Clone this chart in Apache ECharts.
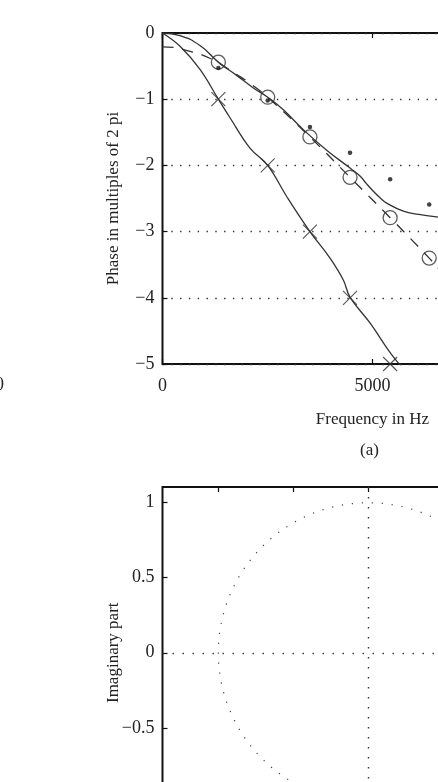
<!DOCTYPE html>
<html>
<head>
<meta charset="utf-8">
<script src="https://cdn.jsdelivr.net/npm/echarts@6/dist/echarts.min.js"></script>
<style>
  html, body { margin: 0; padding: 0; background: #fff; overflow: hidden; width: 438px; height: 782px; }
  /* the figure continues past the right and bottom edges of the window, as in the cropped original */
  #chart { width: 640px; height: 900px; }
</style>
</head>
<body>
<div id="chart"></div>
<script>
// (a) phase curves, frequency in Hz vs phase in multiples of 2 pi
var markFreq = [1330, 2505, 3510, 4465, 5420, 6350];
var crossPhase = [-1, -2, -3, -4, -5];
var circlePhase = [-0.44, -0.97, -1.57, -2.18, -2.79, -3.40];
var dotPhase = [-0.53, -1.02, -1.42, -1.81, -2.21, -2.59];

var steepFreq = [0, 417, 893, 1330, 1607, 2083, 2505, 2957, 3510, 3988, 4305, 4465, 4940, 5390, 5700];
var steepPhase = [0, -0.2, -0.55, -1.0, -1.28, -1.74, -2.0, -2.47, -3.0, -3.4, -3.73, -3.99, -4.38, -4.8, -5.05];

var flatFreq = [0, 417, 893, 1330, 1766, 2163, 2505, 2877, 3353, 3909, 4465, 4702, 4861, 5020, 5180, 5337, 5734, 6100, 6560, 6800];
var flatPhase = [0, -0.04, -0.19, -0.44, -0.64, -0.83, -0.97, -1.16, -1.46, -1.77, -2.04, -2.16, -2.28, -2.39, -2.49, -2.57, -2.69, -2.74, -2.78, -2.79];

var dashFreq = [0, 300, 607, 940, 1330, 1774, 2040, 2505, 3510, 4465, 5420, 6350, 6560, 6900];
var dashPhase = [-0.21, -0.22, -0.27, -0.33, -0.45, -0.63, -0.74, -0.97, -1.57, -2.18, -2.79, -3.40, -3.55, -3.75];

// lower panel: unit circle in the complex plane
var unitCircle = [[0, 0, 1]]; // centre re, centre im, radius
var planeTicks = [-1, -0.5, 0, 0.5, 1];

function zip(a, b) {
    var out = [];
    for (var i = 0; i < a.length && i < b.length; i++) out.push([a[i], b[i]]);
    return out;
}
function minus(v) {
    return String(v).replace('-', '\u2212');
}

var chart = echarts.init(document.getElementById('chart'));
var font = 'Liberation Serif';
var ink = '#333';
var crossPath = 'path://M0,0L10,10M10,0L0,10';
var tickStyle = { color: '#111', width: 1.2 };

var option = {
    animation: false,
    textStyle: { fontFamily: font },
    grid: [
        { left: 162.5, top: 33, width: 420, height: 331, show: true, borderColor: '#111', borderWidth: 2, containLabel: false },
        { left: 162.5, top: 487, width: 411.6, height: 331.5, show: true, borderColor: '#111', borderWidth: 2, containLabel: false }
    ],
    xAxis: [
        {
            gridIndex: 0, type: 'value', min: 0, max: 10000, interval: 5000,
            name: 'Frequency in Hz', nameLocation: 'middle', nameGap: 47, nameMoveOverlap: false,
            nameTextStyle: { fontFamily: font, fontSize: 17, color: '#222' },
            axisLine: { show: false, onZero: false },
            axisTick: { inside: true, length: 5, lineStyle: tickStyle },
            axisLabel: { margin: 13, fontFamily: font, fontSize: 18, color: '#222', formatter: minus },
            splitLine: { show: false }
        },
        {
            gridIndex: 0, type: 'value', position: 'top', min: 0, max: 10000, interval: 5000,
            axisLine: { show: false, onZero: false },
            axisTick: { inside: true, length: 5, lineStyle: tickStyle },
            axisLabel: { show: false },
            splitLine: { show: false }
        },
        {
            gridIndex: 1, type: 'value', min: -1.372, max: 1.372,
            axisLine: { show: false, onZero: false },
            axisTick: { inside: true, length: 5, customValues: planeTicks, lineStyle: tickStyle },
            axisLabel: { customValues: planeTicks, fontFamily: font, fontSize: 18, color: '#222', formatter: minus },
            splitLine: { show: false }
        },
        {
            gridIndex: 1, type: 'value', position: 'top', min: -1.372, max: 1.372,
            axisLine: { show: false, onZero: false },
            axisTick: { inside: true, length: 5, customValues: planeTicks, lineStyle: tickStyle },
            axisLabel: { show: false },
            splitLine: { show: false }
        }
    ],
    yAxis: [
        {
            gridIndex: 0, type: 'value', min: -5, max: 0, interval: 1,
            name: 'Phase in multiples of 2 pi', nameLocation: 'middle', nameGap: 40, nameMoveOverlap: false,
            nameTextStyle: { fontFamily: font, fontSize: 17, color: '#222' },
            axisLine: { show: false, onZero: false },
            axisTick: { inside: true, length: 5, lineStyle: tickStyle },
            axisLabel: { margin: 8, fontFamily: font, fontSize: 18, color: '#222', formatter: minus },
            splitLine: { show: true, lineStyle: { color: ink, width: 1.4, type: [1.4, 7.4] } }
        },
        {
            gridIndex: 1, type: 'value', min: -1.1, max: 1.1,
            name: 'Imaginary part', nameLocation: 'middle', nameGap: 40, nameMoveOverlap: false,
            nameTextStyle: { fontFamily: font, fontSize: 17, color: '#222' },
            axisLine: { show: false, onZero: false },
            axisTick: { inside: true, length: 5, customValues: planeTicks, lineStyle: tickStyle },
            axisLabel: { customValues: planeTicks, margin: 8, fontFamily: font, fontSize: 18, color: '#222', formatter: minus },
            splitLine: { show: false }
        }
    ],
    graphic: [
        { type: 'text', left: -5, top: 376, style: { text: '0', font: '18px "Liberation Serif"', fill: '#222' } },
        { type: 'text', left: 360, top: 442, style: { text: '(a)', font: '17px "Liberation Serif"', fill: '#222' } }
    ],
    series: [
        {
            name: 'steep', type: 'line', xAxisIndex: 0, yAxisIndex: 0,
            data: zip(steepFreq, steepPhase), smooth: 0.4, showSymbol: false,
            lineStyle: { color: ink, width: 1.3 }
        },
        {
            name: 'flat', type: 'line', xAxisIndex: 0, yAxisIndex: 0,
            data: zip(flatFreq, flatPhase), smooth: 0.5, showSymbol: false,
            lineStyle: { color: ink, width: 1.3 }
        },
        {
            name: 'dashed', type: 'line', xAxisIndex: 0, yAxisIndex: 0,
            data: zip(dashFreq, dashPhase), smooth: 0.4, showSymbol: false,
            lineStyle: { color: ink, width: 1.3, type: [11, 9] }
        },
        {
            name: 'crosses', type: 'scatter', xAxisIndex: 0, yAxisIndex: 0,
            data: zip(markFreq, crossPhase), symbol: crossPath, symbolSize: 14,
            itemStyle: { color: 'rgba(0,0,0,0)', borderColor: ink, borderWidth: 1.2 }
        },
        {
            name: 'circles', type: 'scatter', xAxisIndex: 0, yAxisIndex: 0,
            data: zip(markFreq, circlePhase), symbol: 'circle', symbolSize: 14,
            itemStyle: { color: 'rgba(255,255,255,0)', borderColor: ink, borderWidth: 1.3 }
        },
        {
            name: 'dots', type: 'scatter', xAxisIndex: 0, yAxisIndex: 0,
            data: zip(markFreq, dotPhase), symbol: 'circle', symbolSize: 4.5,
            itemStyle: { color: '#111' }
        },
        {
            name: 'unit circle', type: 'custom', xAxisIndex: 2, yAxisIndex: 1,
            data: unitCircle,
            renderItem: function (params, api) {
                var c = api.coord([api.value(0), api.value(1)]);
                var r = api.size([api.value(2), api.value(2)]);
                return {
                    type: 'circle',
                    shape: { cx: c[0], cy: c[1], r: r[0] },
                    style: { fill: 'none', stroke: '#444', lineWidth: 1.2, lineDash: [1.2, 8.8] }
                };
            },
            markLine: {
                silent: true, symbol: 'none', label: { show: false },
                lineStyle: { color: ink, width: 1.4, type: [1.4, 8.6] },
                data: [{ xAxis: 0 }, { yAxis: 0 }]
            }
        }
    ]
};

chart.setOption(option);
</script>
</body>
</html>
